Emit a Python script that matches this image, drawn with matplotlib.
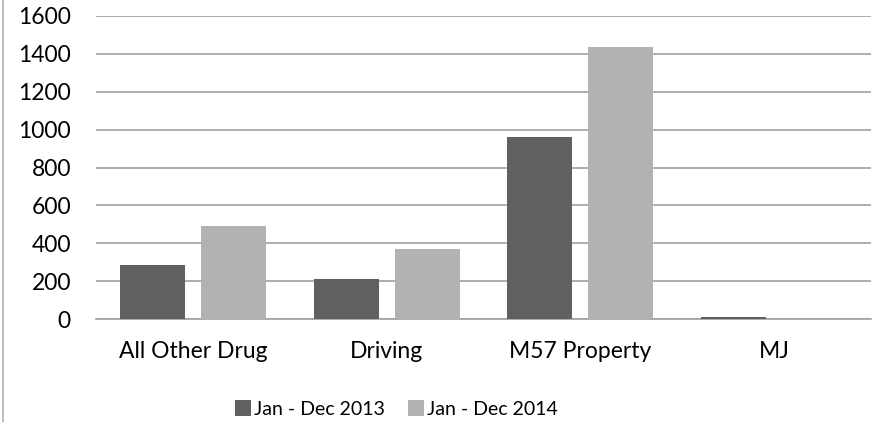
import numpy as np
import matplotlib
matplotlib.use("Agg")
import matplotlib.pyplot as plt
from matplotlib.lines import Line2D

categories = ["All Other Drug", "Driving", "M57 Property", "MJ"]
series_names = ["Jan - Dec 2013", "Jan - Dec 2014"]
values_2013 = [287, 209, 963, 10]
values_2014 = [493, 370, 1435, 0]
y_ticks = [0, 200, 400, 600, 800, 1000, 1200, 1400, 1600]

colors = ["#606060", "#b2b2b2"]
grid_color = "#a0a0a0"

plt.rcParams["font.family"] = ["Lato", "DejaVu Sans"]
fs = 16.5

fig = plt.figure(figsize=(8.78, 4.22), dpi=100)
ax = fig.add_axes([96 / 878, 1 - 319 / 422, 775 / 878, 303 / 422])

x = np.arange(len(categories))
width = 0.335
gap = 0.083
ax.bar(x - (width + gap) / 2, values_2013, width, color=colors[0], label=series_names[0], zorder=3)
ax.bar(x + (width + gap) / 2, values_2014, width, color=colors[1], label=series_names[1], zorder=3)

ax.set_xlim(-0.5, len(categories) - 0.5)
ax.set_ylim(0, 1600)
ax.set_yticks(y_ticks)
ax.set_yticklabels([str(v) for v in y_ticks], fontsize=fs)
ax.set_xticks(x)
ax.set_xticklabels(categories, fontsize=fs)
ax.tick_params(axis="both", length=0, colors="black")
ax.tick_params(axis="y", pad=18)
ax.tick_params(axis="x", pad=16)

ax.grid(axis="y", color=grid_color, linewidth=1.2, zorder=0)
for side in ["top", "right", "left"]:
    ax.spines[side].set_visible(False)
ax.spines["bottom"].set_color(grid_color)
ax.spines["bottom"].set_linewidth(1.2)

# outer chart border on the left edge
fig.add_artist(Line2D([2.5 / 878, 2.5 / 878], [0, 1], color="#b0b0b0", linewidth=1.2))

fig.legend(loc="center", bbox_to_anchor=(396 / 878, 1 - 409 / 422), ncol=2, frameon=False,
           fontsize=14, handlelength=0.85, handleheight=0.85, handletextpad=0.12,
           columnspacing=1.2)

fig.savefig("out.png", dpi=100)
